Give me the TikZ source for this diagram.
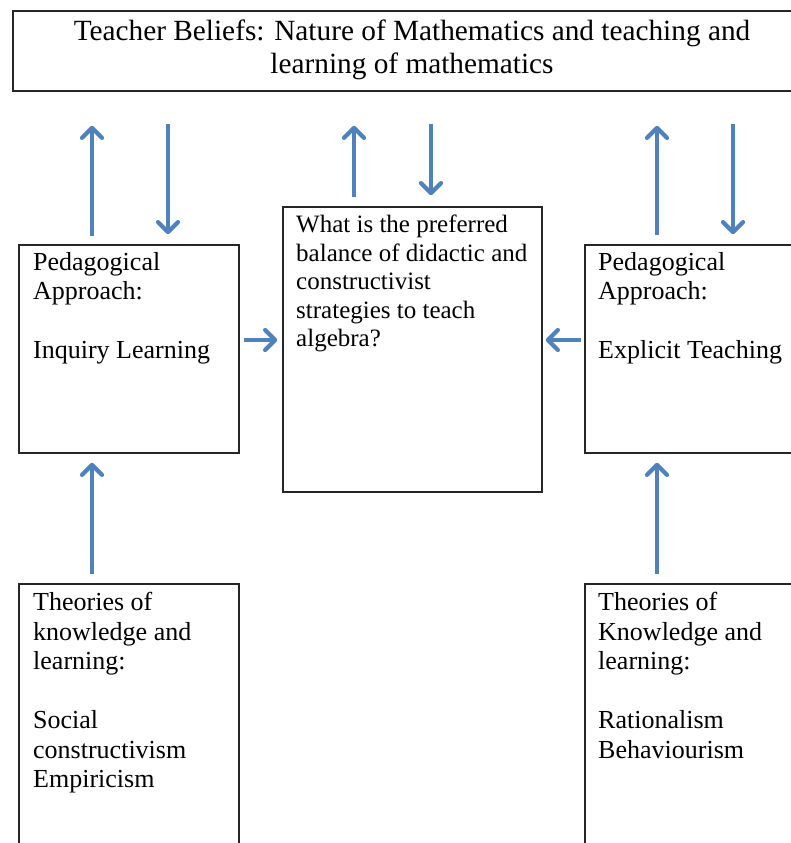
\documentclass[tikz,border=0pt]{standalone}
\usepackage{fontspec}
\setmainfont{Liberation Serif}
\usetikzlibrary{arrows.meta}
\definecolor{arrblue}{RGB}{79,129,189}
\tikzset{
  boxnode/.style={draw=black!85, line width=1.6pt, inner sep=0pt, rectangle},
  txt/.style={inner sep=0pt, align=left, anchor=north west},
  arr/.style={draw=arrblue, line width=3.6pt, -{Straight Barb[length=10pt,width=20pt,line width=4.2pt,round]}},
}
\begin{document}
\begin{tikzpicture}[x=1pt,y=-1pt]
\useasboundingbox (0,0) rectangle (790,843);
% boxes
\node[boxnode, minimum width=790pt, minimum height=80pt] (top) at (408,51) {};
\node[boxnode, minimum width=220pt, minimum height=208pt] (ped1) at (129,349) {};
\node[boxnode, minimum width=259pt, minimum height=285pt] (ctr) at (412.5,349.5) {};
\node[boxnode, minimum width=220pt, minimum height=208pt] (ped2) at (695,349) {};
\node[boxnode, minimum width=220pt, minimum height=290pt] (th1) at (129,729) {};
\node[boxnode, minimum width=220pt, minimum height=290pt] (th2) at (695,729) {};
% texts
\node[inner sep=0pt, align=center, anchor=north, font=\fontsize{29.3}{33}\selectfont] (ttop) at (412,20)
  {Teacher Beliefs: Nature of Mathematics and teaching and\\learning of mathematics};
\node[txt, font=\fontsize{26}{29.5}\selectfont] (tped1) at (33,252)
  {Pedagogical\\Approach:\\[29.5pt]Inquiry Learning};
\node[txt, font=\fontsize{26}{29.5}\selectfont] (tped2) at (598,252)
  {Pedagogical\\Approach:\\[29.5pt]Explicit Teaching};
\node[txt, font=\fontsize{25}{28.5}\selectfont] (tctr) at (296,215)
  {What is the preferred\\balance of didactic and\\constructivist\\strategies to teach\\algebra?};
\node[txt, font=\fontsize{26}{29.5}\selectfont] (tth1) at (33,592)
  {Theories of\\knowledge and\\learning:\\[29.5pt]Social\\constructivism\\Empiricism};
\node[txt, font=\fontsize{26}{29.5}\selectfont] (tth2) at (598,592)
  {Theories of\\Knowledge and\\learning:\\[29.5pt]Rationalism\\Behaviourism};
% arrow x positions
\coordinate (a1) at (92,0);
\coordinate (a2) at (168,0);
\coordinate (a3) at (354,0);
\coordinate (a4) at (431,0);
\coordinate (a5) at (657,0);
\coordinate (a6) at (733,0);
\coordinate (hy) at (0,340);
% vertical arrows between top box and lower boxes
\draw[arr, shorten <=8pt, shorten >=34pt] (ped1.north -| a1) -- (top.south -| a1);
\draw[arr, shorten <=32pt, shorten >=10pt] (top.south -| a2) -- (ped1.north -| a2);
\draw[arr, shorten <=9pt, shorten >=34pt] (ctr.north -| a3) -- (top.south -| a3);
\draw[arr, shorten <=32pt, shorten >=11pt] (top.south -| a4) -- (ctr.north -| a4);
\draw[arr, shorten <=9pt, shorten >=34pt] (ped2.north -| a5) -- (top.south -| a5);
\draw[arr, shorten <=32pt, shorten >=10pt] (top.south -| a6) -- (ped2.north -| a6);
% horizontal arrows
\draw[arr, shorten <=4pt, shorten >=5pt] (ped1.east |- hy) -- (ctr.west |- hy);
\draw[arr, shorten <=3pt, shorten >=3pt] (ped2.west |- hy) -- (ctr.east |- hy);
% lower arrows
\draw[arr, shorten <=9pt, shorten >=9pt] (th1.north -| a1) -- (ped1.south -| a1);
\draw[arr, shorten <=9pt, shorten >=9pt] (th2.north -| a5) -- (ped2.south -| a5);
\end{tikzpicture}
\end{document}
